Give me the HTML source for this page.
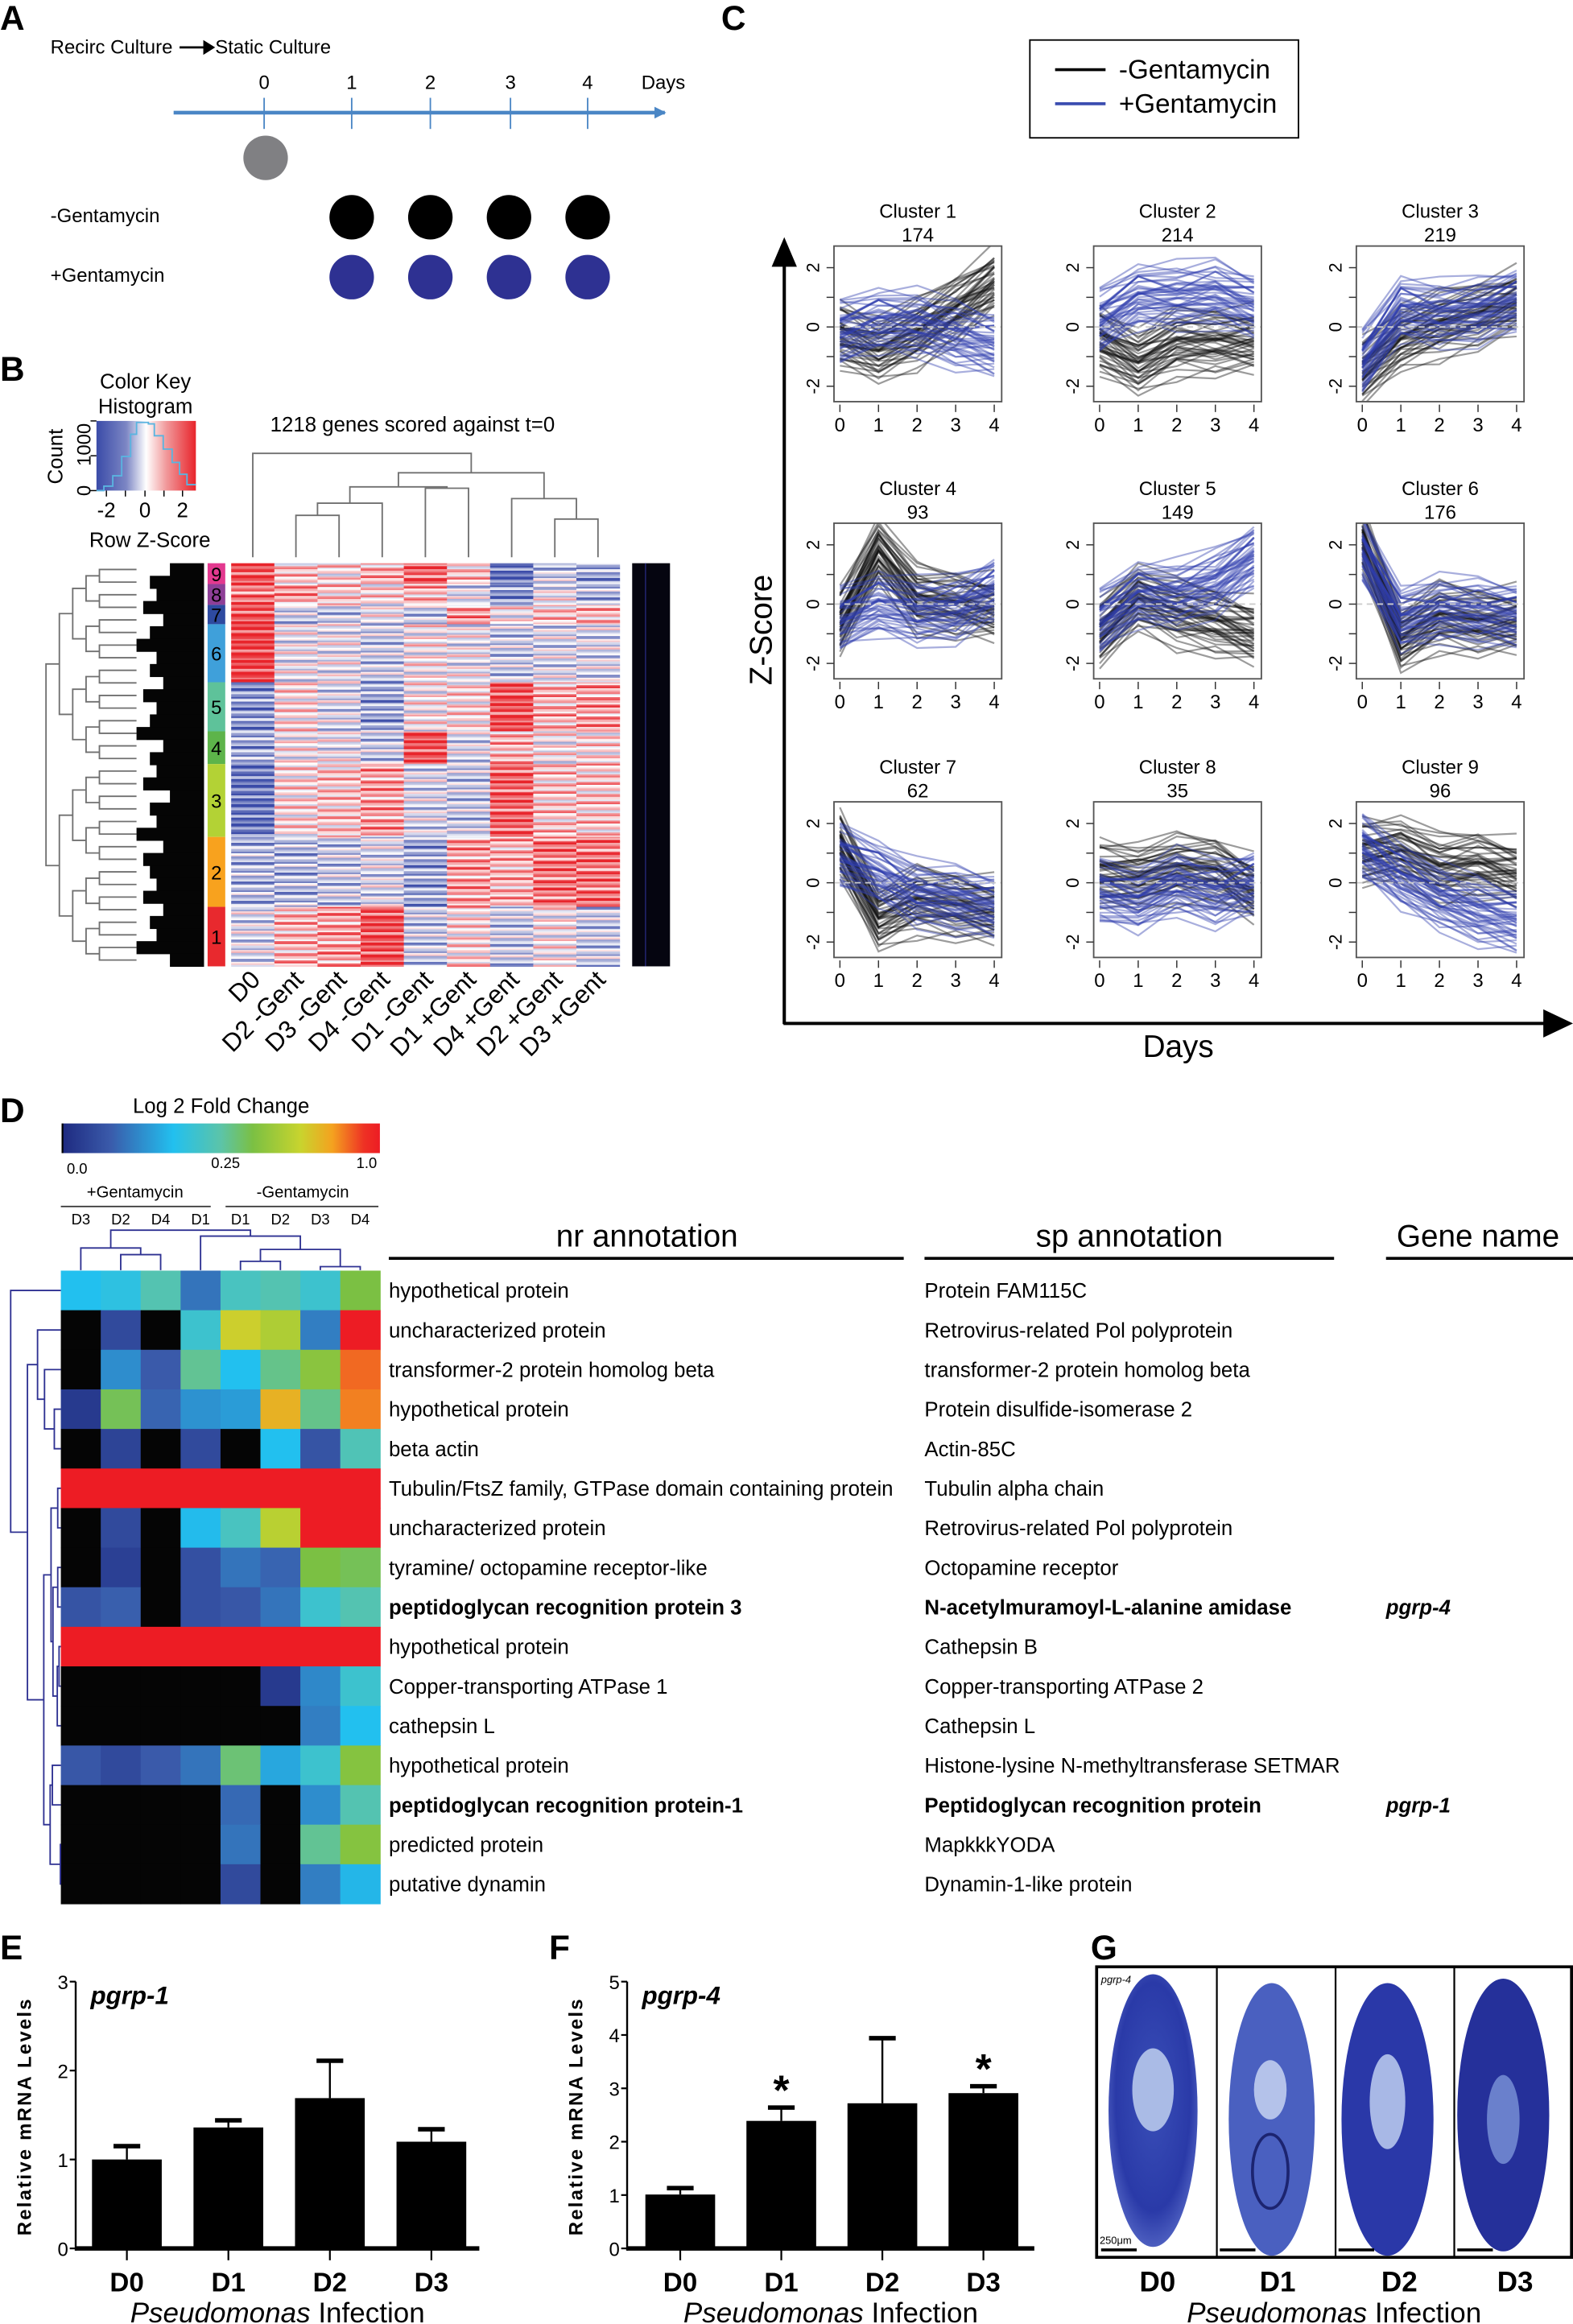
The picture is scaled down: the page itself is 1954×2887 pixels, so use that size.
<!DOCTYPE html>
<html><head><meta charset="utf-8"><title>Figure</title>
<style>
html,body{margin:0;padding:0;background:#fff;}
svg{display:block;font-family:"Liberation Sans",Arial,sans-serif;}
</style></head>
<body>
<svg id="fig" xmlns="http://www.w3.org/2000/svg" width="1954" height="2887" viewBox="0 0 1060 1568" preserveAspectRatio="none">
<defs>
<marker id="arrB" markerWidth="8" markerHeight="8" refX="7" refY="4" orient="auto" markerUnits="userSpaceOnUse"><path d="M0,0 L8,4 L0,8 Z" fill="#4a86c5"/></marker>
<linearGradient id="lfc" x1="0" x2="1" y1="0" y2="0">
<stop offset="0" stop-color="#1e2a80"/><stop offset="0.15" stop-color="#3a5aaa"/><stop offset="0.35" stop-color="#22c0ef"/><stop offset="0.5" stop-color="#5cc4a8"/><stop offset="0.6" stop-color="#7bc043"/><stop offset="0.75" stop-color="#c8d42e"/><stop offset="0.85" stop-color="#f4a21f"/><stop offset="0.95" stop-color="#ee3124"/><stop offset="1" stop-color="#ed1c24"/>
</linearGradient>
<linearGradient id="zkey" x1="0" x2="1" y1="0" y2="0">
<stop offset="0" stop-color="#3a4ba8"/><stop offset="0.3" stop-color="#7c86c4"/><stop offset="0.5" stop-color="#ffffff"/><stop offset="0.7" stop-color="#f19a9c"/><stop offset="1" stop-color="#e8242b"/>
</linearGradient>
<radialGradient id="worm" cx="0.5" cy="0.45" r="0.6">
<stop offset="0" stop-color="#3a4fb8"/><stop offset="0.7" stop-color="#2a3aa8"/><stop offset="1" stop-color="#5a6cc8"/>
</radialGradient>
</defs>

<g font-weight="bold" font-size="23">
<text x="0" y="20">A</text>
<text x="0" y="257">B</text>
<text x="486" y="20">C</text>
<text x="0" y="757">D</text>
<text x="0" y="1322">E</text>
<text x="370" y="1322">F</text>
<text x="735" y="1322">G</text>
</g>

<g font-size="13">
<text x="34" y="36">Recirc Culture</text>
<line x1="121" y1="32" x2="142" y2="32" stroke="#000" stroke-width="1.5"/>
<path d="M137,27 L145,32 L137,37 Z" fill="#000"/>
<text x="145" y="36">Static Culture</text>
<line x1="117" y1="76" x2="448" y2="76" stroke="#4a86c5" stroke-width="2.5" marker-end="url(#arrB)"/>
<g stroke="#4a86c5" stroke-width="1">
<line x1="178" y1="66" x2="178" y2="87"/><line x1="237" y1="66" x2="237" y2="87"/><line x1="290" y1="66" x2="290" y2="87"/><line x1="344" y1="66" x2="344" y2="87"/><line x1="396" y1="66" x2="396" y2="87"/>
</g>
<g text-anchor="middle">
<text x="178" y="60">0</text><text x="237" y="60">1</text><text x="290" y="60">2</text><text x="344" y="60">3</text><text x="396" y="60">4</text>
</g>
<text x="447" y="60" text-anchor="middle">Days</text>
<circle cx="179" cy="106.5" r="15" fill="#808083"/>
<text x="34" y="150">-Gentamycin</text>
<text x="34" y="190">+Gentamycin</text>
<g fill="#000">
<circle cx="237" cy="146.6" r="15"/><circle cx="290" cy="146.6" r="15"/><circle cx="343" cy="146.6" r="15"/><circle cx="396" cy="146.6" r="15"/>
</g>
<g fill="#2e3192">
<circle cx="237" cy="187" r="15"/><circle cx="290" cy="187" r="15"/><circle cx="343" cy="187" r="15"/><circle cx="396" cy="187" r="15"/>
</g>
</g>

<g>
<rect x="694" y="27" width="181" height="66" fill="#fff" stroke="#000" stroke-width="1"/>
<line x1="711" y1="47" x2="745" y2="47" stroke="#000" stroke-width="2"/>
<text x="754" y="53" font-size="18">-Gentamycin</text>
<line x1="711" y1="70" x2="745" y2="70" stroke="#3b4db0" stroke-width="2"/>
<text x="754" y="76" font-size="18">+Gentamycin</text>
</g>
<g>
<line x1="528.5" y1="172" x2="528.5" y2="691" stroke="#000" stroke-width="2.2"/>
<path d="M520,180 L528.5,160 L537,180 Z" fill="#000"/>
<line x1="528" y1="690.5" x2="1045" y2="690.5" stroke="#000" stroke-width="2.2"/>
<path d="M1040,681 L1060,690.5 L1040,700 Z" fill="#000"/>
<text x="520" y="425" font-size="21" text-anchor="middle" transform="rotate(-90 520 425)">Z-Score</text>
<text x="794" y="713" font-size="21" text-anchor="middle">Days</text>
</g>
<g id="clusters"></g>

<g>
<text x="98" y="262" font-size="14" text-anchor="middle">Color Key</text>
<text x="98" y="279" font-size="14" text-anchor="middle">Histogram</text>
<rect x="65" y="284" width="67" height="47" fill="url(#zkey)"/>
<polyline points="65,331 70,331 70,328 76,328 76,321 82,321 82,308 88,308 88,293 92,293 92,285 100,285 100,286 104,286 104,294 110,294 110,303 116,303 116,312 121,312 121,320 126,320 126,327 132,327" fill="none" stroke="#5ab4e0" stroke-width="1"/>
<g stroke="#000" stroke-width="0.8"><line x1="61" y1="331" x2="65" y2="331"/><line x1="61" y1="307.5" x2="65" y2="307.5"/><line x1="61" y1="284" x2="65" y2="284"/></g>
<text x="57" y="331" font-size="13" text-anchor="middle" transform="rotate(-90 57 331)" dy="4">0</text>
<text x="57" y="300" font-size="13" text-anchor="middle" transform="rotate(-90 57 300)" dy="4">1000</text>
<text x="38" y="308" font-size="14" text-anchor="middle" transform="rotate(-90 38 308)" dy="4">Count</text>
<g stroke="#000" stroke-width="0.8"><line x1="71.7" y1="331" x2="71.7" y2="335"/><line x1="84.5" y1="331" x2="84.5" y2="335"/><line x1="97.7" y1="331" x2="97.7" y2="335"/><line x1="110.5" y1="331" x2="110.5" y2="335"/><line x1="123" y1="331" x2="123" y2="335"/></g>
<g font-size="14" text-anchor="middle"><text x="71.7" y="349">-2</text><text x="97.7" y="349">0</text><text x="123" y="349">2</text></g>
<text x="101" y="369" font-size="14" text-anchor="middle">Row Z-Score</text>
<text x="278" y="291" font-size="14" text-anchor="middle">1218 genes scored against t=0</text>
<rect x="426" y="380" width="25.5" height="272" fill="#050510"/>
<line x1="435" y1="380" x2="435" y2="652" stroke="#2e3192" stroke-width="0.6"/>
</g>
<g id="heatB"></g>
<g id="dendB" fill="none" stroke="#707070" stroke-width="1"></g>

<g>
<text x="149" y="751" font-size="14" text-anchor="middle">Log 2 Fold Change</text>
<rect x="42" y="758" width="214" height="20" fill="url(#lfc)"/>
<rect x="41.5" y="758" width="1.2" height="20" fill="#000"/>
<g font-size="10"><text x="45" y="792">0.0</text><text x="152" y="788" text-anchor="middle">0.25</text><text x="254" y="788" text-anchor="end">1.0</text></g>
<text x="91" y="808" font-size="11" text-anchor="middle">+Gentamycin</text>
<text x="204" y="808" font-size="11" text-anchor="middle">-Gentamycin</text>
<line x1="41" y1="814" x2="142" y2="814" stroke="#333" stroke-width="1"/>
<line x1="152" y1="814" x2="255" y2="814" stroke="#333" stroke-width="1"/>
<text x="436" y="841" font-size="21" text-anchor="middle">nr annotation</text>
<line x1="262" y1="849" x2="609" y2="849" stroke="#000" stroke-width="2"/>
<text x="761" y="841" font-size="21" text-anchor="middle">sp annotation</text>
<line x1="623" y1="849" x2="899" y2="849" stroke="#000" stroke-width="2"/>
<text x="996" y="841" font-size="21" text-anchor="middle">Gene name</text>
<line x1="934" y1="849" x2="1060" y2="849" stroke="#000" stroke-width="2"/>
</g>
<g id="heatD"></g>
<g id="tableD" font-size="14"></g>

<g id="barE"></g>
<g id="barF"></g>

<g>
<rect x="739" y="1327" width="320" height="196" fill="#fff" stroke="#000" stroke-width="2"/>
<line x1="820" y1="1327" x2="820" y2="1523" stroke="#000" stroke-width="1.2"/>
<line x1="900" y1="1327" x2="900" y2="1523" stroke="#000" stroke-width="1.2"/>
<line x1="980" y1="1327" x2="980" y2="1523" stroke="#000" stroke-width="1.2"/>
<g><ellipse cx="777" cy="1424" rx="30" ry="92" fill="url(#worm)"/><ellipse cx="777" cy="1410" rx="14" ry="28" fill="#aabbe6"/></g>
<g><ellipse cx="857" cy="1430" rx="29" ry="92" fill="#4a60c0"/><ellipse cx="856" cy="1410" rx="11" ry="20" fill="#b4c2ea"/><ellipse cx="856" cy="1465" rx="12" ry="25" fill="none" stroke="#1c2470" stroke-width="2"/></g>
<g><ellipse cx="935" cy="1430" rx="31" ry="92" fill="#2a38a8"/><ellipse cx="935" cy="1418" rx="12" ry="32" fill="#a8b8e6"/></g>
<g><ellipse cx="1013" cy="1427" rx="31" ry="92" fill="#25309a"/><ellipse cx="1013" cy="1430" rx="11" ry="30" fill="#6a80cc"/></g>
<text x="742" y="1338" font-size="7" font-style="italic">pgrp-4</text>
<text x="741" y="1514" font-size="7">250μm</text>
<g stroke="#000" stroke-width="2"><line x1="742" y1="1518" x2="766" y2="1518"/><line x1="822" y1="1518" x2="846" y2="1518"/><line x1="902" y1="1518" x2="926" y2="1518"/><line x1="982" y1="1518" x2="1006" y2="1518"/></g>
<g font-size="19" font-weight="bold" text-anchor="middle"><text x="780" y="1546">D0</text><text x="861" y="1546">D1</text><text x="943" y="1546">D2</text><text x="1021" y="1546">D3</text></g>
<text x="899" y="1567" font-size="19" text-anchor="middle"><tspan font-style="italic">Pseudomonas</tspan> Infection</text>
</g>
</svg>

<script>
const NS='http://www.w3.org/2000/svg';
function mk(tag, attrs, parent, txt){
  const e=document.createElementNS(NS,tag);
  for(const k in attrs){e.setAttribute(k,attrs[k]);}
  if(txt!==undefined){e.textContent=txt;}
  parent.appendChild(e);
  return e;
}
function bracket(x1,y1,x2,y2,yT,parent){
  const p=mk('path',{d:'M'+x1+','+y1+' V'+yT+' H'+x2+' V'+y2},parent);
  
  
}

/* ---------- Panel C data ---------- */
const clusterNames=['Cluster 1','Cluster 2','Cluster 3','Cluster 4','Cluster 5','Cluster 6','Cluster 7','Cluster 8','Cluster 9'];
const clusterCounts=[174,214,219,93,149,176,62,35,96];
const days=[0,1,2,3,4];
const meanMinus=[[-0.3,-0.8,-0.2,0.6,1.5],[-0.5,-1.2,-0.5,-0.5,-0.5],[-1.5,-0.4,0.1,0.4,0.8],[-0.6,1.8,0.2,0.0,-0.2],[-1.0,0.2,-0.3,-0.6,-1.0],[2.2,-1.2,-0.4,-0.6,-0.6],[1.3,-1.2,-0.6,-0.8,-1.0],[0.3,0.2,0.5,0.4,-0.3],[1.0,1.1,0.5,0.6,0.3]];
const meanPlus=[[-0.2,0.2,0.1,-0.3,-0.6],[0.2,1.0,1.0,1.1,0.7],[-1.2,0.6,0.4,0.5,0.9],[-0.5,0.0,-0.3,-0.2,0.5],[-0.6,0.3,0.3,0.7,1.6],[1.8,-0.5,-0.2,-0.3,-0.4],[0.9,0.3,-0.4,-0.6,-0.8],[-0.3,-0.6,0.0,-0.4,0.0],[1.2,0.2,-0.5,-1.0,-1.3]];
const lineOffsets=[-1.0,-0.75,-0.5,-0.3,-0.15,0,0.15,0.3,0.5,0.75,1.0];
const lineJitter=[[0.3,-0.4,0.2,-0.1,0.5],[-0.2,0.3,-0.5,0.4,-0.1],[0.5,0.1,0.3,-0.4,0.2],[-0.4,-0.2,0.4,0.3,-0.5],[0.1,0.5,-0.2,-0.3,0.4],[-0.3,0.2,0.1,0.5,-0.3],[0.4,-0.5,-0.3,0.2,0.1],[-0.1,0.4,0.5,-0.2,-0.4],[0.2,-0.3,-0.4,-0.5,0.3],[-0.5,0.0,0.2,0.1,0.5],[0.3,0.3,-0.1,0.4,-0.2]];
const yTicksC=[-2,0,2];
const yMinorC=[-2,-1,0,1,2];

/* ---------- Panel B data ---------- */
const colsB=['D0','D2 -Gent','D3 -Gent','D4 -Gent','D1 -Gent','D1 +Gent','D4 +Gent','D2 +Gent','D3 +Gent'];
const clusterIds=[9,8,7,6,5,4,3,2,1];
const clusterSizes=[14,14,13,39,33,22,49,47,40];
const clusterColors=['#e3398f','#8e3f97','#2e4aa0','#3fa0da','#5ec29a','#5db44a','#b3d235','#f8a21e','#e8292e'];
const clusterMeans=[
 [0.8,0.2,0.1,0.3,0.7,0.2,-0.8,-0.3,-0.5],
 [0.6,0.4,0.2,0.1,0.3,-0.2,-0.6,-0.1,-0.4],
 [0.8,-0.3,-0.3,-0.1,-0.3,0.4,0.0,0.2,0.3],
 [0.9,-0.1,-0.1,-0.3,0.0,-0.1,-0.3,-0.2,-0.2],
 [-0.6,0.1,-0.2,-0.5,0.0,0.1,0.8,0.3,0.4],
 [-0.5,0.0,-0.1,-0.3,0.8,-0.2,0.3,0.0,0.1],
 [-0.8,0.1,0.2,0.4,-0.2,-0.3,0.7,0.2,0.2],
 [-0.4,-0.4,-0.3,-0.2,-0.5,0.4,0.3,0.6,0.6],
 [-0.2,0.3,0.4,0.8,-0.3,0.1,-0.3,0.0,-0.3]];
const stripeVar=[0.35,-0.2,0.1,-0.45,0.25,0.0,-0.3,0.5,-0.1,0.2,-0.35,0.4,-0.05];
const leafDepth=[3,6,5,7,4,6,8,5,6,4,7,5,6,8,4,6,5,7,3,6,5,8,4,7,6,5,7,4,6,5,8,3];

/* ---------- Panel D data ---------- */
const colsD=['D3','D2','D4','D1','D1','D2','D3','D4'];
const lfcValues=[
 [0.35,0.38,0.48,0.2,0.45,0.48,0.42,0.6],
 [null,0.1,null,0.42,0.76,0.7,0.22,1],
 [null,0.25,0.15,0.52,0.35,0.53,0.63,0.9],
 [0.05,0.58,0.17,0.26,0.28,0.82,0.53,0.88],
 [null,0.08,null,0.1,null,0.35,0.13,0.47],
 [1,1,1,1,1,1,1,1],
 [null,0.1,null,0.34,0.45,0.72,1,1],
 [null,0.07,null,0.12,0.2,0.17,0.6,0.58],
 [0.13,0.16,null,0.12,0.14,0.2,0.42,0.48],
 [1,1,1,1,1,1,1,1],
 [null,null,null,null,null,0.05,0.24,0.42],
 [null,null,null,null,null,null,0.22,0.35],
 [0.14,0.1,0.15,0.2,0.55,0.3,0.42,0.62],
 [null,null,null,null,0.18,null,0.25,0.48],
 [null,null,null,null,0.2,null,0.52,0.62],
 [null,null,null,null,0.1,null,0.22,0.33]];
const nrAnno=['hypothetical protein','uncharacterized protein','transformer-2 protein homolog beta','hypothetical protein','beta actin','Tubulin/FtsZ family, GTPase domain containing protein','uncharacterized protein','tyramine/ octopamine receptor-like','peptidoglycan recognition protein 3','hypothetical protein','Copper-transporting ATPase 1','cathepsin L','hypothetical protein','peptidoglycan recognition protein-1','predicted protein','putative dynamin'];
const spAnno=['Protein FAM115C','Retrovirus-related Pol polyprotein','transformer-2 protein homolog beta','Protein disulfide-isomerase 2','Actin-85C','Tubulin alpha chain','Retrovirus-related Pol polyprotein','Octopamine receptor','N-acetylmuramoyl-L-alanine amidase','Cathepsin B','Copper-transporting ATPase 2','Cathepsin L','Histone-lysine N-methyltransferase SETMAR','Peptidoglycan recognition protein','MapkkkYODA','Dynamin-1-like protein'];
const geneNames=['','','','','','','','','pgrp-4','','','','','pgrp-1','',''];

/* ---------- Panels E & F data ---------- */
const barCats=['D0','D1','D2','D3'];
const pgrp1Values=[1.0,1.36,1.69,1.2];
const pgrp1Errors=[0.15,0.08,0.42,0.14];
const pgrp1Ticks=[0,1,2,3];
const pgrp4Values=[1.01,2.39,2.72,2.91];
const pgrp4Errors=[0.12,0.25,1.22,0.13];
const pgrp4Ticks=[0,1,2,3,4,5];
const pgrp4Sig=[false,true,false,true];

/* ===== Panel C drawing ===== */
try{
const boxX=[562,737,914], boxY=[166,353,541], BW=113, BH=105;
const cg=document.getElementById('clusters');
for(let c=0;c<9;c++){
  const x0=boxX[c%3];
  const y0=boxY[Math.floor(c/3)];
  const zeroY=y0+BH*0.52;
  const ppu=20;
  const sx=function(d){return x0+4+d*(BW-9)/4;};
  const sy=function(v){return zeroY-v*ppu;};
  const g=mk('g',{},cg);
  
  
  const t1=mk('text',{x:x0+BW/2,y:y0-19,'font-size':13,'text-anchor':'middle'},g,clusterNames[c]);
  
  
  const t2=mk('text',{x:x0+BW/2,y:y0-3,'font-size':13,'text-anchor':'middle'},g,String(clusterCounts[c]));
  
  
  const clip=mk('clipPath',{id:'cc'+c},g);
  mk('rect',{x:x0,y:y0,width:BW,height:BH},clip);
  const lines=mk('g',{'clip-path':'url(#cc'+c+')',fill:'none'},g);
  
  
  const series=[[meanMinus,'#111','minus'],[meanPlus,'#2f3fae','plus']];
  for(let si=0;si<series.length;si++){
    const means=series[si][0];
    const col=series[si][1];
    const nm=series[si][2];
    for(let k=0;k<lineOffsets.length;k++){
      for(let rep=0;rep<4;rep++){
        const jrow=lineJitter[(k+rep*4+si*3)%lineJitter.length];
        const pts=days.map(function(d,i){return sx(d)+','+sy(means[c][i]+lineOffsets[k]*(0.7+rep*0.12)+jrow[i]*0.6);}).join(' ');
        const pl=mk('polyline',{points:pts,stroke:col,'stroke-width':1.2,'stroke-opacity':0.42},lines);
        
        
      }
    }
  }
  const zl=mk('line',{x1:x0,x2:x0+BW,y1:sy(0),y2:sy(0),stroke:'#ccc','stroke-dasharray':'4,3','stroke-width':1},g);
  
  
  const bx=mk('rect',{x:x0,y:y0,width:BW,height:BH,fill:'none',stroke:'#555','stroke-width':1},g);
  
  
  yMinorC.forEach(function(v){
    const tl=mk('line',{x1:x0-5,x2:x0,y1:sy(v),y2:sy(v),stroke:'#333','stroke-width':0.8},g);
    
    
  });
  yTicksC.forEach(function(v){
    const tt=mk('text',{x:x0-10,y:sy(v),'font-size':12,'text-anchor':'middle',transform:'rotate(-90 '+(x0-10)+' '+sy(v)+')'},g,String(v));
    
    
  });
  days.forEach(function(d){
    const tl=mk('line',{x1:sx(d),x2:sx(d),y1:y0+BH+2,y2:y0+BH+7,stroke:'#333','stroke-width':0.8},g);
    
    
    const tt=mk('text',{x:sx(d),y:y0+BH+20,'font-size':13,'text-anchor':'middle'},g,String(d));
    
    
  });
}
}catch(e){console.log(e);}

/* ===== Panel B drawing ===== */
try{
function zcol(v){
  v=Math.max(-1,Math.min(1,v));
  let a,b,t;
  if(v<0){a=[58,75,168];b=[255,255,255];t=v+1;}else{a=[255,255,255];b=[232,36,43];t=v;}
  return 'rgb('+a.map(function(x,i){return Math.round(x+(b[i]-x)*t);}).join(',')+')';
}
const hb=document.getElementById('heatB');
const HX=155.8, HW=261.7, HY=380, HH=272;
const colW=HW/colsB.length;
const totalRows=clusterSizes.reduce(function(a,b){return a+b;},0);
const rowH=HH/totalRows;
let rowIdx=0;
for(let ci=0;ci<clusterSizes.length;ci++){
  const n=clusterSizes[ci];
  const yStart=HY+rowIdx*rowH;
  const seg=mk('rect',{x:139.9,y:yStart,width:11.9,height:n*rowH,fill:clusterColors[ci]},hb);
  
  
  const lb=mk('text',{x:145.8,y:yStart+n*rowH/2+5,'font-size':13,'text-anchor':'middle'},hb,String(clusterIds[ci]));
  
  
  for(let i=0;i<n;i++){
    for(let c=0;c<colsB.length;c++){
      const v=clusterMeans[ci][c]+stripeVar[(rowIdx*7+c*3)%stripeVar.length]*1.1;
      const cell=mk('rect',{x:HX+c*colW,y:HY+rowIdx*rowH,width:colW+0.3,height:rowH+0.3,fill:zcol(v)},hb);
      
      
    }
    rowIdx++;
  }
}
colsB.forEach(function(lab,c){
  const cx=HX+(c+0.5)*colW+6;
  const cy=662;
  const t=mk('text',{x:cx,y:cy,'font-size':17,'text-anchor':'end',transform:'rotate(-45 '+cx+' '+cy+')'},hb,lab);
  
  
});
const db=document.getElementById('dendB');
function colCx(i){return HX+(i+0.5)*colW;}
bracket(colCx(1),376,colCx(2),376,347.7,db);
const m1=(colCx(1)+colCx(2))/2;
bracket(m1,347.7,colCx(3),376,339.5,db);
bracket(colCx(4),376,colCx(5),376,329.4,db);
const mA=(m1+colCx(3))/2;
const mB=(colCx(4)+colCx(5))/2;
bracket(mA,339.5,mB,329.4,328.5,db);
bracket(colCx(7),376,colCx(8),376,350.2,db);
const m2=(colCx(7)+colCx(8))/2;
bracket(colCx(6),376,m2,350.2,336.4,db);
const mC=(mA+mB)/2;
const mD=(colCx(6)+m2)/2;
bracket(mC,328.5,mD,336.4,319,db);
bracket(colCx(0),376,(mC+mD)/2,319,305.9,db);
function rowTree(lo,hi,x){
  if(hi-lo<=1){return {y:HY+(lo+0.5)*HH/leafDepth.length,x:92};}
  const mid=Math.floor((lo+hi)/2);
  const a=rowTree(lo,mid,x+9);
  const b=rowTree(mid,hi,x+9);
  const p=mk('path',{d:'M'+a.x+','+a.y+' H'+x+' V'+b.y+' H'+b.x},db);
  
  
  return {y:(a.y+b.y)/2,x:x};
}
rowTree(0,leafDepth.length,31);
leafDepth.forEach(function(d,i){
  const y=HY+i*HH/leafDepth.length;
  const xl=128-d*4.5;
  const rr=mk('rect',{x:xl,y:y,width:137.5-xl,height:HH/leafDepth.length+0.3,fill:'#050505',stroke:'none'},db);
  
  
});
}catch(e){console.log(e);}

/* ===== Panel D drawing ===== */
try{
const stopsT=[0,0.15,0.35,0.5,0.6,0.75,0.85,0.95,1];
const stopsC=[[30,42,128],[58,90,170],[34,192,239],[92,196,168],[123,192,67],[200,212,46],[244,162,31],[238,49,36],[237,28,36]];
function lfcColor(t){
  if(t===null){return '#050505';}
  for(let i=1;i<stopsT.length;i++){
    if(t<=stopsT[i]){
      const f=(t-stopsT[i-1])/(stopsT[i]-stopsT[i-1]);
      return 'rgb('+stopsC[i].map(function(v,k){return Math.round(stopsC[i-1][k]+(v-stopsC[i-1][k])*f);}).join(',')+')';
    }
  }
  return 'rgb(237,28,36)';
}
const hd=document.getElementById('heatD');
const DX=41, DY=857.3, DW=26.9, DH=26.7;
lfcValues.forEach(function(row,ri){
  row.forEach(function(v,ci){
    const cell=mk('rect',{x:DX+ci*DW,y:DY+ri*DH,width:DW+0.3,height:DH+0.3,fill:lfcColor(v)},hd);
    
    
  });
});
colsD.forEach(function(c,i){
  const t=mk('text',{x:DX+(i+0.5)*DW,y:826,'font-size':10,'text-anchor':'middle'},hd,c);
  
  
});
const dd=mk('g',{fill:'none',stroke:'#2e3192','stroke-width':1},hd);


function dcx(i){return DX+(i+0.5)*DW;}
bracket(dcx(1),857,dcx(2),857,846.5,dd);
bracket(dcx(0),857,(dcx(1)+dcx(2))/2,846.5,842,dd);
bracket(dcx(4),857,dcx(5),857,851,dd);
bracket(dcx(6),857,dcx(7),857,854.6,dd);
const dm1=(dcx(4)+dcx(5))/2;
const dm2=(dcx(6)+dcx(7))/2;
bracket(dm1,851,dm2,854.6,843,dd);
const dmr=(dm1+dm2)/2;
bracket(dcx(3),857,dmr,843,834,dd);
bracket((dcx(0)+(dcx(1)+dcx(2))/2)/2,842,(dcx(3)+dmr)/2,834,830,dd);
const dA=[1,[2,[3,4,36.6],30],25.3];
const dB1=[[5,6,38.9],[[7,8,38.9],[[9,10,39.8],11,38.6],35.7],34.4];
const dB2=[[12,13,35.3],[14,15,40.7],33.8];
const dB=[dB1,dB2,29.5];
const dAB=[dA,dB,18.5];
const rowTreeD=[0,dAB,7.2];
function drawRowTree(node){
  if(typeof node==='number'){return {x:41,y:DY+(node+0.5)*DH};}
  const a=drawRowTree(node[0]);
  const b=drawRowTree(node[1]);
  const x=node[2];
  const p=mk('path',{d:'M'+a.x+','+a.y+' H'+x+' V'+b.y+' H'+b.x},dd);
  
  
  return {x:x,y:(a.y+b.y)/2};
}
drawRowTree(rowTreeD);
const td=document.getElementById('tableD');
nrAnno.forEach(function(s,i){
  const y=DY+(i+0.5)*DH+5;
  const bold=geneNames[i]!=='';
  const a=mk('text',{x:262,y:y,'font-weight':bold?'bold':'normal'},td,s);
  
  
  const b=mk('text',{x:623,y:y,'font-weight':bold?'bold':'normal'},td,spAnno[i]);
  
  
  if(bold){
    const gn=mk('text',{x:934,y:y,'font-weight':'bold','font-style':'italic'},td,geneNames[i]);
    
    
  }
});
}catch(e){console.log(e);}

/* ===== Panels E & F drawing ===== */
function barChart(gid,cfg){
  const g=document.getElementById(gid);
  const sy=function(v){return cfg.y0-(v/cfg.max)*(cfg.y0-cfg.yTop);};
  const sx=function(i){return cfg.x0+cfg.firstCx+i*cfg.step;};
  const lx=cfg.x0-30;
  const yl=mk('text',{x:lx,y:1428,'font-size':13,'font-weight':'bold','letter-spacing':'1.2','text-anchor':'middle',transform:'rotate(-90 '+lx+' 1428)'},g,'Relative mRNA Levels');
  
  
  const tt=mk('text',{x:cfg.x0+10,y:1352,'font-size':17,'font-weight':'bold','font-style':'italic'},g,cfg.title);
  
  
  cfg.values.forEach(function(v,i){
    const cx=sx(i);
    const top=sy(v+cfg.errors[i]);
    const eb=mk('line',{x1:cx,x2:cx,y1:sy(v),y2:top,stroke:'#000','stroke-width':1.3},g);
    
    
    const cap=mk('line',{x1:cx-9,x2:cx+9,y1:top,y2:top,stroke:'#000','stroke-width':3},g);
    
    
    const b=mk('rect',{x:cx-cfg.bw/2,y:sy(v),width:cfg.bw,height:cfg.y0-sy(v),fill:'#000'},g);
    
    
    const tk=mk('line',{x1:cx,x2:cx,y1:cfg.y0,y2:cfg.y0+8,stroke:'#000','stroke-width':1.2},g);
    
    
    const lb=mk('text',{x:cx,y:1546,'font-size':18,'font-weight':'bold','text-anchor':'middle'},g,cfg.cats[i]);
    
    
    if(cfg.sig){
      if(cfg.sig[i]){
        const st=mk('text',{x:cx,y:top-2,'font-size':28,'font-weight':'bold','text-anchor':'middle'},g,'*');
        
        
      }
    }
  });
  const ax=mk('line',{x1:cfg.x0,x2:cfg.x0,y1:cfg.yTop,y2:cfg.y0+1.5,stroke:'#000','stroke-width':1.3},g);
  
  
  const xa=mk('line',{x1:cfg.x0,x2:cfg.xEnd,y1:cfg.y0,y2:cfg.y0,stroke:'#000','stroke-width':3},g);
  
  
  cfg.ticks.forEach(function(t){
    const l=mk('line',{x1:cfg.x0-4,x2:cfg.x0,y1:sy(t),y2:sy(t),stroke:'#000','stroke-width':1.2},g);
    
    
    const lt=mk('text',{x:cfg.x0-5,y:sy(t)+5,'font-size':13,'text-anchor':'end'},g,String(t));
    
    
  });
  const xt=mk('text',{x:cfg.x0+(cfg.xEnd-cfg.x0)/2,y:1567,'font-size':19,'text-anchor':'middle'},g);
  
  
  mk('tspan',{'font-style':'italic'},xt,'Pseudomonas');
  mk('tspan',{},xt,' Infection');
}
try{
barChart('barE',{x0:51,xEnd:323,y0:1517,yTop:1337,max:3,firstCx:34.5,step:68.4,bw:47,values:pgrp1Values,errors:pgrp1Errors,ticks:pgrp1Ticks,cats:barCats,title:'pgrp-1'});
}catch(e){console.log(e);}
try{
barChart('barF',{x0:422.6,xEnd:697,y0:1517,yTop:1337,max:5,firstCx:35.8,step:68.1,bw:47,values:pgrp4Values,errors:pgrp4Errors,ticks:pgrp4Ticks,cats:barCats,title:'pgrp-4',sig:pgrp4Sig});
}catch(e){console.log(e);}
</script>
</body></html>
